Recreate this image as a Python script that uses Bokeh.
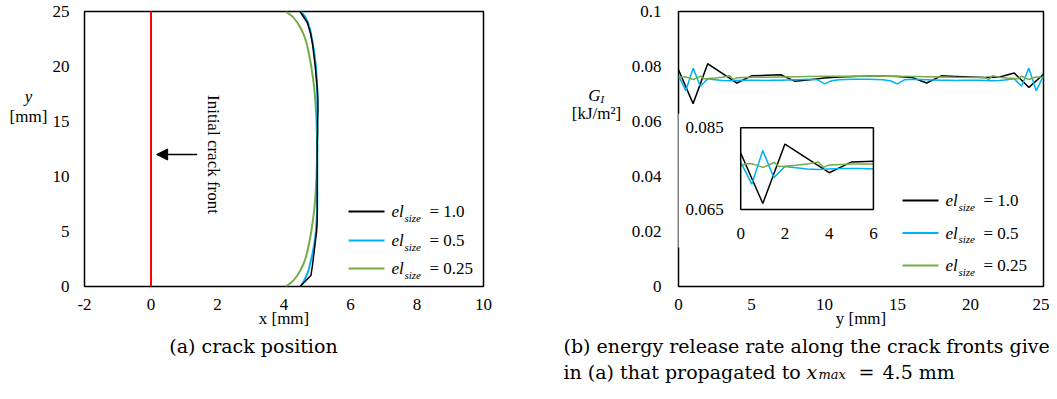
from bokeh.plotting import figure
from bokeh.models import Range1d, FixedTicker, Label, Arrow, NormalHead, BoxAnnotation
from bokeh.layouts import row, column
from bokeh.embed import file_html
from bokeh.resources import INLINE
from bokeh.core.properties import value

# ---------------- data ----------------
# (a) crack position: crack front x [mm] along y [mm]
initial_x = [0, 0]
initial_y = [0, 25]

front10_y = [0, 1, 2, 3, 4, 5, 6, 7, 8, 9, 10, 11, 12, 13, 14, 15, 16, 17, 18, 19, 20, 21, 22, 23, 24, 25]
front10_x = [4.48, 4.81, 4.86, 4.90, 4.94, 4.98, 5.00, 5.00, 5.00, 5.00, 5.00, 5.00, 5.00, 5.00, 5.01,
             5.01, 5.02, 5.02, 5.00, 4.97, 4.94, 4.90, 4.86, 4.80, 4.70, 4.48]

front05_y = [0, 0.5, 1, 1.5, 2, 2.5, 3, 3.5, 4, 4.5, 5, 5.5, 6, 6.5, 7, 7.5, 8, 8.5, 9, 9.5, 10, 10.5,
             11, 11.5, 12, 12.5, 13, 13.5, 14, 14.5, 15, 15.5, 16, 16.5, 17, 17.5, 18, 18.5, 19, 19.5,
             20, 20.5, 21, 21.5, 22, 22.5, 23, 23.5, 24, 24.5, 25]
front05_x = [4.50, 4.60, 4.68, 4.74, 4.78, 4.82, 4.86, 4.89, 4.92, 4.94, 4.96, 4.97, 4.98, 4.99, 5.00,
             5.00, 5.00, 5.00, 5.00, 5.00, 5.00, 5.00, 5.00, 5.00, 5.00, 5.00, 5.00, 5.00, 5.00, 5.00,
             5.00, 5.00, 5.00, 5.00, 5.00, 5.00, 5.00, 4.99, 4.98, 4.97, 4.96, 4.94, 4.92, 4.90, 4.87,
             4.84, 4.81, 4.77, 4.72, 4.64, 4.50]

front025_y = [0, 0.25, 0.5, 1, 1.5, 2, 2.5, 3, 4, 5, 6, 7, 8, 10, 12.5, 15, 17, 18, 19, 20, 21, 22,
              22.5, 23, 23.5, 24, 24.5, 24.75, 25]
front025_x = [4.05, 4.17, 4.27, 4.40, 4.50, 4.58, 4.64, 4.69, 4.76, 4.82, 4.87, 4.91, 4.94, 4.98, 5.00,
              4.98, 4.94, 4.91, 4.87, 4.82, 4.76, 4.69, 4.64, 4.58, 4.50, 4.40, 4.27, 4.17, 4.05]

# (b) energy release rate G_I [kJ/m^2] along y [mm]
g10_y = [0, 1, 2, 3, 4, 5, 6, 7, 8, 9, 10, 11, 12, 13, 14, 15, 16, 17, 18, 19, 20, 21, 22, 23, 24, 25]
g10_G = [0.0788, 0.0665, 0.0810, 0.0775, 0.0740, 0.0766, 0.0768, 0.0770, 0.0746, 0.0752, 0.0758,
         0.0762, 0.0764, 0.0765, 0.0765, 0.0764, 0.0760, 0.0740, 0.0766, 0.0764, 0.0762, 0.0760,
         0.0762, 0.0776, 0.0724, 0.0772]

g05_y = [0, 0.5, 1, 1.5, 2, 2.5, 3, 3.5, 4, 4.5, 5, 5.5, 6, 6.5, 7, 7.5, 8, 8.5, 9, 9.5, 10, 10.5,
         11, 11.5, 12, 12.5, 13, 13.5, 14, 14.5, 15, 15.5, 16, 16.5, 17, 17.5, 18, 18.5, 19, 19.5,
         20, 20.5, 21, 21.5, 22, 22.5, 23, 23.5, 24, 24.5, 25]
g05_G = [0.0766, 0.0712, 0.0794, 0.0728, 0.0755, 0.0752, 0.0749, 0.0748, 0.0749, 0.0750, 0.0750,
         0.0750, 0.0749, 0.0750, 0.0750, 0.0751, 0.0752, 0.0753, 0.0754, 0.0752, 0.0737, 0.0748,
         0.0752, 0.0753, 0.0754, 0.0754, 0.0754, 0.0753, 0.0752, 0.0748, 0.0737, 0.0752, 0.0754,
         0.0753, 0.0752, 0.0751, 0.0750, 0.0750, 0.0749, 0.0750, 0.0750, 0.0750, 0.0749, 0.0748,
         0.0749, 0.0752, 0.0755, 0.0728, 0.0794, 0.0712, 0.0766]

g025_y = [0, 0.25, 0.5, 0.75, 1, 1.25, 1.5, 1.75, 2, 2.5, 3, 3.5, 3.75, 4, 4.5, 5, 6, 8, 10, 12.5,
          15, 17, 19, 20.5, 21, 21.25, 21.5, 22, 22.5, 23, 23.25, 23.5, 23.75, 24, 24.25, 24.5,
          24.75, 25]
g025_G = [0.0757, 0.0762, 0.0762, 0.0758, 0.0753, 0.0758, 0.0765, 0.0755, 0.0756, 0.0758, 0.0761,
          0.0766, 0.0753, 0.0759, 0.0760, 0.0761, 0.0761, 0.0763, 0.0765, 0.0765, 0.0765, 0.0763,
          0.0761, 0.0760, 0.0759, 0.0753, 0.0766, 0.0761, 0.0758, 0.0756, 0.0755, 0.0765, 0.0758,
          0.0753, 0.0758, 0.0762, 0.0762, 0.0757]

# axes / ticks
a_xticks = [-2, 0, 2, 4, 6, 8, 10]
a_xlabels = ["-2", "0", "2", "4", "6", "8", "10"]
a_yticks = [0, 5, 10, 15, 20, 25]
a_ylabels = ["0", "5", "10", "15", "20", "25"]
b_xticks = [0, 5, 10, 15, 20, 25]
b_xlabels = ["0", "5", "10", "15", "20", "25"]
b_yticks = [0, 0.02, 0.04, 0.06, 0.08, 0.1]
b_ylabels = ["0", "0.02", "0.04", "0.06", "0.08", "0.1"]
inset_xticks = [0, 2, 4, 6]
inset_xlabels = ["0", "2", "4", "6"]
inset_yticks = [0.065, 0.085]
inset_ylabels = ["0.065", "0.085"]

series_names = ["1.0", "0.5", "0.25"]

# ---------------- styling ----------------
SERIF = "Liberation Serif"
CAPF = "DejaVu Serif"
FS = "17px"
BLACK = "#000000"
BLUE = "#00B0F0"
GREEN = "#70AD47"
RED = "#FF0000"
COLORS = [BLACK, BLUE, GREEN]
TOP_H = 333
BOT_H = 50


def style_axes(p, xt, xl, yt, yl, xstand, ystand, xtitle):
    p.xgrid.visible = False
    p.ygrid.visible = False
    p.xaxis.ticker = FixedTicker(ticks=xt)
    p.yaxis.ticker = FixedTicker(ticks=yt)
    p.xaxis.major_label_overrides = dict(zip(xt, xl))
    p.yaxis.major_label_overrides = dict(zip(yt, yl))
    for ax, st in ((p.xaxis, xstand), (p.yaxis, ystand)):
        ax.axis_line_color = None
        ax.major_tick_line_color = None
        ax.minor_tick_line_color = None
        ax.major_tick_out = 0
        ax.major_tick_in = 0
        ax.major_label_standoff = st
        ax.major_label_text_font = SERIF
        ax.major_label_text_font_size = FS
        ax.major_label_text_color = "black"
    p.xaxis.axis_label = xtitle
    p.xaxis.axis_label_text_font = SERIF
    p.xaxis.axis_label_text_font_size = FS
    p.xaxis.axis_label_text_font_style = "normal"
    p.xaxis.axis_label_text_color = "black"
    p.xaxis.axis_label_standoff = -4
    p.outline_line_color = "black"
    p.outline_line_width = 1.5
    p.outline_line_alpha = 1.0


def lab(p, x, y, text, size=FS, style="normal", align="left", baseline="alphabetic",
        font=SERIF, angle=0, units="screen"):
    p.add_layout(Label(x=x, y=y, x_units=units, y_units=units, text=text,
                       text_font=font, text_font_size=size, text_font_style=style,
                       text_align=align, text_baseline=baseline, text_color="black",
                       angle=angle, angle_units="deg"))


def legend(p, x0, ys):
    # custom legend: line sample + "el" + subscript "size" + "= value"
    for c, y, name in zip(COLORS, ys, series_names):
        p.add_layout(Arrow(start=None, end=None, x_start=x0, y_start=y, x_end=x0 + 36, y_end=y,
                           start_units="screen", end_units="screen",
                           line_color=c, line_width=2))
        lab(p, x0 + 43, y, "el", style="italic", baseline="middle")
        lab(p, x0 + 56, y - 6, "size", size="11px", style="italic", baseline="middle")
        lab(p, x0 + 81, y, "= " + name, baseline="middle")


def text_strip(w, h):
    s = figure(width=w, height=h, x_range=Range1d(0, w), y_range=Range1d(0, h),
               x_axis_type=None, y_axis_type=None, output_backend="svg", toolbar_location=None,
               title=None, min_border=0, min_border_left=0, min_border_right=0,
               min_border_top=0, min_border_bottom=0)
    s.outline_line_color = None
    s.xgrid.visible = False
    s.ygrid.visible = False
    return s


# ---------------- (a) crack position ----------------
p1 = figure(width=491, height=TOP_H, x_range=Range1d(-2, 10), y_range=Range1d(0, 25),
            output_backend="svg", toolbar_location=None, title=None,
            min_border_left=34, min_border_right=57, min_border_top=10, min_border_bottom=TOP_H - 287)
style_axes(p1, a_xticks, a_xlabels, a_yticks, a_ylabels, 12, 15, "x [mm]")

p1.line(initial_x, initial_y, line_color=RED, line_width=2)
p1.line(front025_x, front025_y, line_color=GREEN, line_width=2)
p1.line(front05_x, front05_y, line_color=BLUE, line_width=2)
p1.line(front10_x, front10_y, line_color=BLACK, line_width=1.5)

p1.add_layout(Arrow(end=NormalHead(size=11, fill_color="black", line_color="black", line_width=1),
                    x_start=1.39, y_start=12, x_end=0.17, y_end=12,
                    line_color="black", line_width=1.5))
lab(p1, 1.87, 12.0, "Initial crack front", align="center", baseline="middle", angle=-90, units="data")

legend(p1, 264, [75, 46, 18])

# y-axis title of (a)
sa = text_strip(49, TOP_H)
lab(sa, 28, TOP_H - 143, "y", style="italic", align="center")
lab(sa, 28, TOP_H - 163, "[mm]", align="center")

# ---------------- (b) energy release rate ----------------
p2 = figure(width=423, height=TOP_H, x_range=Range1d(0, 25), y_range=Range1d(0, 0.1),
            output_backend="svg", toolbar_location=None, title=None,
            min_border_left=52, min_border_right=6, min_border_top=11, min_border_bottom=TOP_H - 286)
style_axes(p2, b_xticks, b_xlabels, b_yticks, b_ylabels, 12, 17, "y [mm]")

p2.line(g10_y, g10_G, line_color=BLACK, line_width=1.5)
p2.line(g05_y, g05_G, line_color=BLUE, line_width=1.5)
p2.line(g025_y, g025_G, line_color=GREEN, line_width=1.5)

# inset background (covers part of the left spine)
p2.add_layout(BoxAnnotation(left=-0.2, right=13.83, bottom=0.0142, top=0.0628,
                            fill_color="white", fill_alpha=1.0, line_color=None, level="annotation"))

sub = p2.subplot(x_source=Range1d(0, 6), y_source=Range1d(0.065, 0.085),
                 x_target=Range1d(4.26, 13.35), y_target=Range1d(0.02797, 0.05776))


def upto6(xs, ys):
    pairs = [(a, b) for a, b in zip(xs, ys) if a <= 6]
    return [a for a, _ in pairs], [b for _, b in pairs]


for (xs, ys), c in (((g10_y, g10_G), BLACK), ((g05_y, g05_G), BLUE), ((g025_y, g025_G), GREEN)):
    ix, iy = upto6(xs, ys)
    sub.line(ix, iy, line_color=c, line_width=1.5, level="overlay")

sub.text(x=inset_xticks, y=[0.065] * len(inset_xticks), text=inset_xlabels, y_offset=24,
         text_align="center", text_baseline="middle", text_font=value(SERIF),
         text_font_size=FS, text_color="black", level="overlay")
sub.text(x=[0] * len(inset_yticks), y=inset_yticks, text=inset_ylabels, x_offset=-17,
         text_align="right", text_baseline="middle", text_font=value(SERIF),
         text_font_size=FS, text_color="black", level="overlay")

p2.add_layout(BoxAnnotation(left=4.26, right=13.35, bottom=0.02797, top=0.05776,
                            fill_color=None, fill_alpha=0, line_color="black", line_width=1.5,
                            line_alpha=1.0, level="overlay"))

legend(p2, 224, [86, 53.5, 21])

# y-axis title of (b)
sb = text_strip(86, TOP_H)
lab(sb, 54, TOP_H - 142, "G", style="italic", align="center")
lab(sb, 60, TOP_H - 145, "I", size="11px", style="italic")
lab(sb, 56, TOP_H - 160, "[kJ/m²]", align="center")

# ---------------- captions ----------------
cap = text_strip(1049, BOT_H)
H0 = TOP_H + BOT_H
lab(cap, 253, H0 - 345, "(a) crack position", size="19px", font=CAPF, align="center", baseline="middle")
lab(cap, 563, H0 - 345, "(b) energy release rate along the crack fronts given", size="19px",
    font=CAPF, baseline="middle")
lab(cap, 563, H0 - 371, "in (a) that propagated to", size="19px", font=CAPF, baseline="middle")
lab(cap, 806, H0 - 371, "x", size="19px", font=CAPF, style="italic", baseline="middle")
lab(cap, 818, H0 - 374, "max", size="13px", font=CAPF, style="italic", baseline="middle")
lab(cap, 858, H0 - 371, "=", size="19px", font=CAPF, baseline="middle")
lab(cap, 882, H0 - 371, "4.5 mm", size="19px", font=CAPF, baseline="middle")

layout = column(row(sa, p1, sb, p2), cap)
open("out.html", "w").write(file_html(layout, INLINE))
